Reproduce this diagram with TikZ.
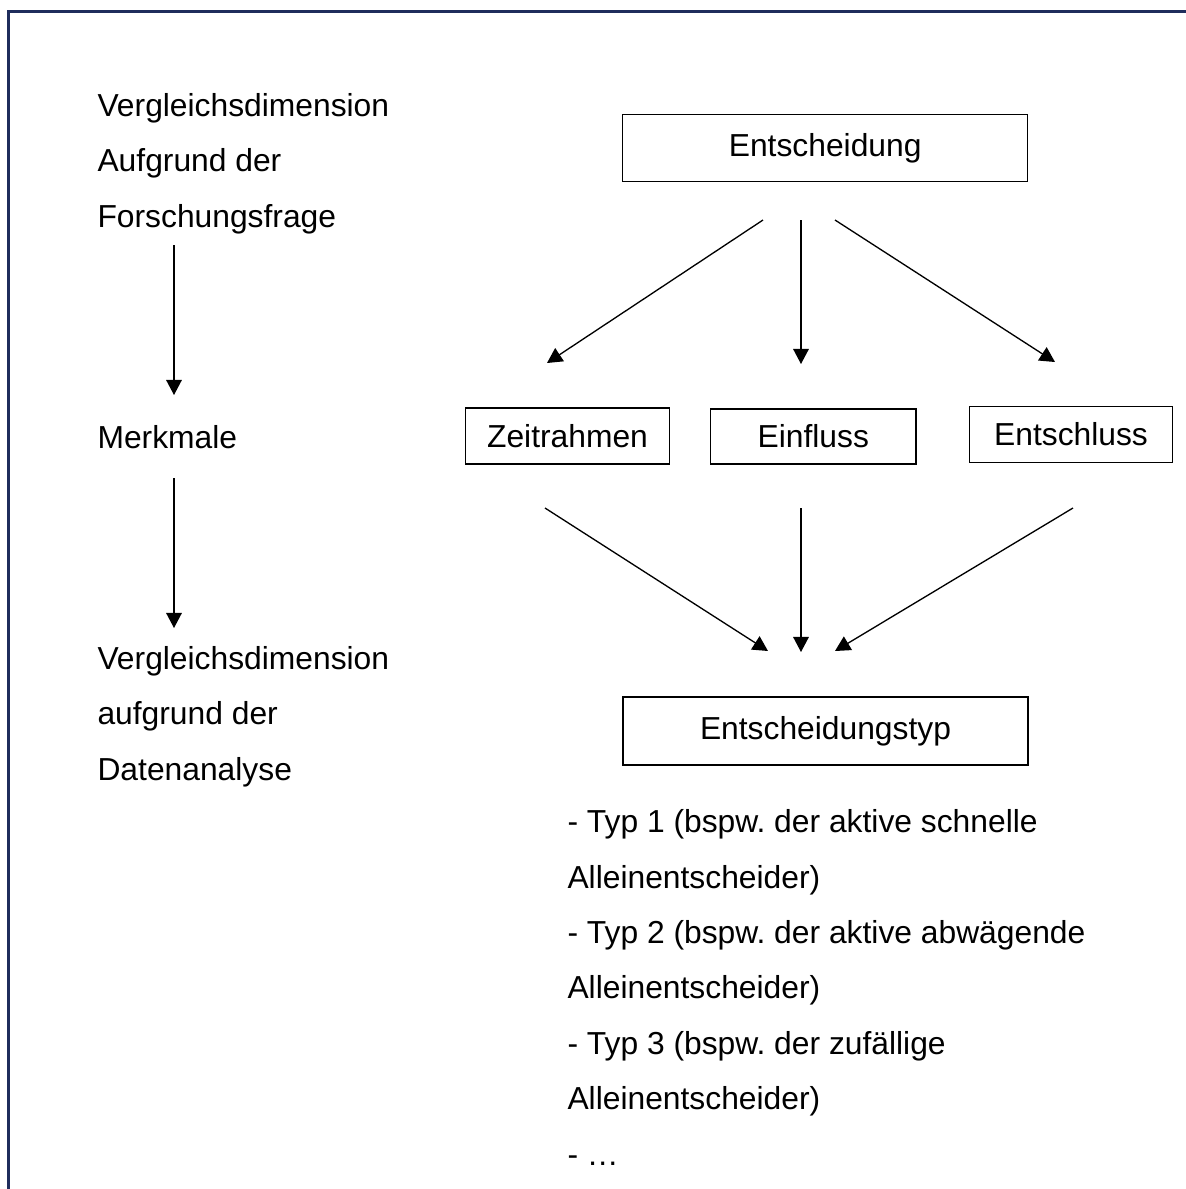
\documentclass[tikz,border=0pt]{standalone}
\usepackage{fontspec}
\setmainfont{Liberation Sans}
\usepackage{xcolor}
\usepackage{tikz}
\usetikzlibrary{arrows.meta,positioning,calc}
\definecolor{framenavy}{RGB}{31,45,92}
\frenchspacing

\begin{document}
\begin{tikzpicture}[x=0.3774pt, y=-0.3774pt,
    every node/.style={font={\fontsize{12}{20.9}\selectfont}},
    box/.style={draw, line width=0.5pt, inner sep=0pt},
    arr/.style={-{Triangle[width=5.9pt,length=5.7pt]}, line width=0.5pt},
    txt/.style={align=left, anchor=base west, inner sep=0pt}]
    \useasboundingbox (0,0) rectangle (1186,1189);

    % Frame
    \draw[framenavy, line width=1.13pt] (8.5,1189) -- (8.5,11.5) -- (1186,11.5);

    % Left column (base = last line)
    \node[txt] (dimA) at (97,227) {Vergleichsdimension\\Aufgrund der\\Forschungsfrage};
    \node[txt] (merk) at (97,448) {Merkmale};
    \node[txt] (dimB) at (97,780) {Vergleichsdimension\\aufgrund der\\Datenanalyse};

    \coordinate (l1) at (174,245);
    \coordinate (l2) at (174,395);
    \coordinate (l3) at (174,478);
    \coordinate (l4) at (174,628);
    \draw[arr] (l1) -- (l2);
    \draw[arr] (l3) -- (l4);

    % Boxes
    \node[box, minimum width=152.8pt, minimum height=25.5pt] (ent) at (825.2,148) {Entscheidung};
    \node[box, minimum width=77pt, minimum height=21.1pt] (zeit) at (567.5,436) {Zeitrahmen};
    \node[box, minimum width=77.4pt, minimum height=20.8pt] (einf) at (813.3,436.5) {Einfluss};
    \node[box, minimum width=76.6pt, minimum height=21.1pt] (entschl) at (1071,434.5) {Entschluss};
    \node[box, minimum width=152.8pt, minimum height=25.7pt] (typ) at (825.5,731) {Entscheidungstyp};

    % Arrows between the rows
    \coordinate (u1) at (763,220);
    \coordinate (u2) at (801,220);
    \coordinate (u3) at (835,220);
    \coordinate (v1) at (547,363);
    \coordinate (v2) at (801,364);
    \coordinate (v3) at (1055,362);
    \draw[arr] (u1) -- (v1);
    \draw[arr] (u2) -- (v2);
    \draw[arr] (u3) -- (v3);

    \coordinate (p1) at (545,508);
    \coordinate (p2) at (801,508);
    \coordinate (p3) at (1073,508);
    \coordinate (q1) at (768,651);
    \coordinate (q2) at (801,652);
    \coordinate (q3) at (835,651);
    \draw[arr] (p1) -- (q1);
    \draw[arr] (p2) -- (q2);
    \draw[arr] (p3) -- (q3);

    % Types (base = last line)
    \node[txt] (liste) at (567,1165) {- Typ 1 (bspw. der aktive schnelle\\Alleinentscheider)\\- Typ 2 (bspw. der aktive abwägende\\Alleinentscheider)\\- Typ 3 (bspw. der zufällige\\Alleinentscheider)\\- …};
\end{tikzpicture}
\end{document}
